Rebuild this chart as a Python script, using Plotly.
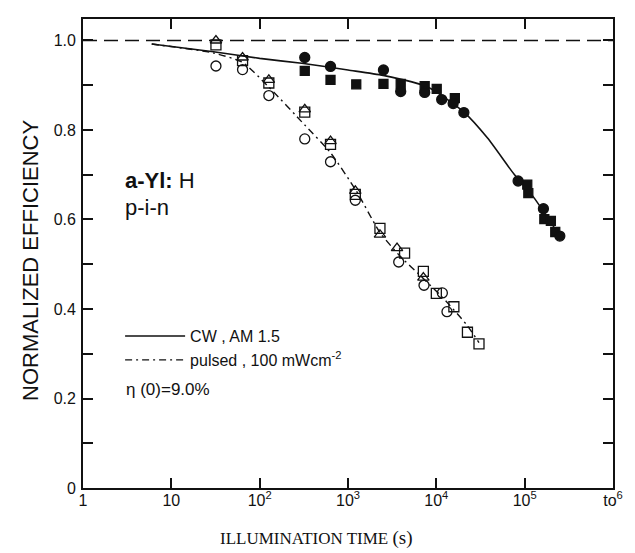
import plotly.graph_objects as go

# ---------------- data ----------------
# CW, AM 1.5 illumination - filled symbols
cw_circle_t = [324, 634, 2520, 3950, 7380, 11500, 15500, 20500, 84300, 163000, 250000]
cw_circle_eff = [0.962, 0.942, 0.934, 0.886, 0.884, 0.868, 0.859, 0.839, 0.686, 0.624, 0.563]
cw_square_t = [324, 634, 1240, 2520, 3950, 7380, 10100, 16200, 107000, 110000, 167000, 198000, 222000]
cw_square_eff = [0.932, 0.912, 0.902, 0.903, 0.903, 0.898, 0.892, 0.871, 0.678, 0.659, 0.601, 0.597, 0.572]

# pulsed, 100 mW/cm2 - open symbols
pul_triangle_t = [32, 64, 127, 324, 634, 1210, 2300, 3590, 7130]
pul_triangle_eff = [1.0, 0.962, 0.912, 0.846, 0.775, 0.664, 0.566, 0.536, 0.470]
pul_square_t = [32, 64, 127, 324, 634, 1210, 2300, 4370, 7130, 10000, 15800, 22500, 30400]
pul_square_eff = [0.99, 0.955, 0.905, 0.84, 0.768, 0.656, 0.580, 0.525, 0.484, 0.435, 0.405, 0.348, 0.322]
pul_circle_t = [32, 64, 127, 324, 634, 1210, 3750, 7250, 11700, 13200]
pul_circle_eff = [0.943, 0.935, 0.877, 0.780, 0.729, 0.643, 0.505, 0.453, 0.436, 0.394]

# drawn trend curves
cw_fit_t = [6, 30, 100, 300, 1000, 2500, 8000, 20500, 38000, 76000, 126000, 250000]
cw_fit_eff = [0.992, 0.975, 0.960, 0.949, 0.934, 0.922, 0.896, 0.840, 0.782, 0.701, 0.650, 0.563]
pulsed_fit_t = [6, 30, 64, 127, 324, 634, 1240, 2300, 3850, 7130, 12000, 22000, 30400]
pulsed_fit_eff = [0.992, 0.972, 0.951, 0.896, 0.811, 0.749, 0.664, 0.571, 0.519, 0.468, 0.424, 0.365, 0.325]

initial_eff = 1.0

x_tickvals = [1, 10, 100, 1000, 10000, 100000, 1000000]
x_ticktext = ["1", "10", "10<sup>2</sup>", "10<sup>3</sup>", "10<sup>4</sup>", "10<sup>5</sup>", "to<sup>6</sup>"]
y_tickvals = [0, 0.1, 0.2, 0.3, 0.4, 0.5, 0.6, 0.7, 0.8, 0.9, 1.0]
y_ticktext = ["0", "", "0.2", "", "0.4", "", "0.6", "", "0.8", "", "1.0"]

FONT = "Liberation Sans, Arial, sans-serif"
BLACK = "#111111"

fig = go.Figure()

# curves (legend entries)
fig.add_trace(go.Scatter(x=cw_fit_t, y=cw_fit_eff, mode="lines", name="CW , AM 1.5",
                         line=dict(color=BLACK, width=1.6, shape="spline", smoothing=0.6)))
fig.add_trace(go.Scatter(x=pulsed_fit_t, y=pulsed_fit_eff, mode="lines",
                         name="pulsed , 100 mWcm<sup>-2</sup>",
                         line=dict(color=BLACK, width=1.4, dash="7px,4px,2px,4px",
                                   shape="spline", smoothing=0.6)))

def markers(x, y, symbol, size):
    fig.add_trace(go.Scatter(x=x, y=y, mode="markers", showlegend=False,
                             marker=dict(symbol=symbol, size=size, color=BLACK,
                                         line=dict(color=BLACK, width=1.3))))

markers(pul_square_t, pul_square_eff, "square-open", 10)
markers(pul_triangle_t, pul_triangle_eff, "triangle-up-open", 10)
markers(pul_circle_t, pul_circle_eff, "circle-open", 10)
markers(cw_square_t, cw_square_eff, "square", 9)
markers(cw_circle_t, cw_circle_eff, "circle", 10)

fig.add_hline(y=initial_eff, line=dict(color=BLACK, width=1.3, dash="14px,7px"))

fig.update_xaxes(type="log", range=[0, 6], tickvals=x_tickvals, ticktext=x_ticktext,
                 ticks="inside", ticklen=10, tickwidth=1.5, tickcolor=BLACK,
                 showline=True, linecolor=BLACK, linewidth=1.8, mirror="ticks",
                 showgrid=False, zeroline=False,
                 tickfont=dict(family=FONT, size=16, color=BLACK), ticklabelstandoff=-3)
fig.update_yaxes(range=[0, 1.048], tickvals=y_tickvals, ticktext=y_ticktext,
                 ticks="inside", ticklen=10, tickwidth=1.5, tickcolor=BLACK,
                 showline=True, linecolor=BLACK, linewidth=1.8, mirror="ticks",
                 showgrid=False, zeroline=False,
                 tickfont=dict(family=FONT, size=16, color=BLACK), ticklabelstandoff=2)

ann = [
    dict(text="<b>a-Yl:</b> H", x=0.076, y=0.688, xref="paper", yref="y", xanchor="left",
         yanchor="middle", showarrow=False, font=dict(family=FONT, size=22, color=BLACK)),
    dict(text="p-i-n", x=0.076, y=0.626, xref="paper", yref="y", xanchor="left",
         yanchor="middle", showarrow=False, font=dict(family=FONT, size=22, color=BLACK)),
    dict(text="η (0)=9.0%", x=0.078, y=0.22, xref="paper", yref="y", xanchor="left",
         yanchor="middle", showarrow=False, font=dict(family=FONT, size=17, color=BLACK)),
    dict(text="NORMALIZED EFFICIENCY", x=-0.1, y=0.484, xref="paper", yref="paper",
         textangle=-90, showarrow=False, xanchor="center", yanchor="middle",
         font=dict(family=FONT, size=22, color=BLACK)),
    dict(text="ILLUMINATION TIME <span style='font-size:19px'>(s)</span>", x=0.44, y=-0.106,
         xref="paper", yref="paper", showarrow=False, xanchor="center", yanchor="middle",
         font=dict(family="Liberation Serif, Times New Roman, serif", size=17, color=BLACK)),
]

# the page body adds an 8 px margin, so the figure is sized to the visible area
fig.update_layout(
    width=627, height=545,
    margin=dict(l=75, r=22, t=9, b=65),
    paper_bgcolor="white", plot_bgcolor="white",
    annotations=ann,
    legend=dict(x=0.07, y=0.36, xanchor="left", yanchor="top", bgcolor="rgba(0,0,0,0)",
                font=dict(family=FONT, size=16, color=BLACK), itemwidth=60,
                tracegroupgap=0),
)

fig.write_html("out.html")
